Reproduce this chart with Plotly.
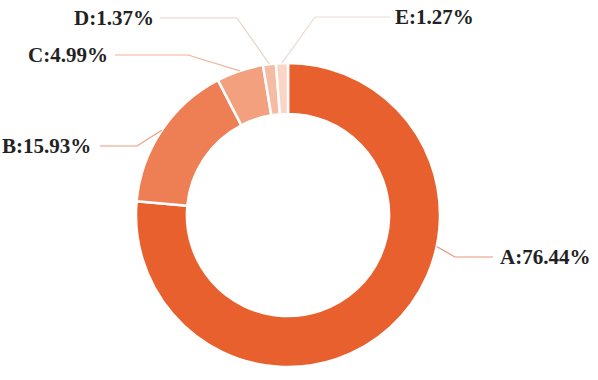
import math
import plotly.graph_objects as go

# ---- data ----
labels = ["A", "B", "C", "D", "E"]
values = [76.44, 15.93, 4.99, 1.37, 1.27]
colors = ["#E9602F", "#EE7F55", "#F3A07E", "#F6BBA3", "#FAD5C6"]
line_colors = ["#E8957A", "#EC9C7E", "#F0B39A", "#E6D3CB", "#EADBD4"]

W, H = 598, 380
CX, CY, R = 288, 215, 152

# label layout (pixels): elbow, end, text side
label_layout = {
    "A": dict(angle=102, elbow=(455, 257), end=(493, 257), tx=498, anchor="left"),
    "B": dict(angle=None, elbow=(137, 146), end=(100, 146), tx=93, anchor="right"),
    "C": dict(angle=None, elbow=(188, 55), end=(115, 55), tx=110, anchor="right"),
    "D": dict(angle=None, elbow=(237, 18), end=(160, 18), tx=156, anchor="right"),
    "E": dict(angle=None, elbow=(315, 17), end=(390, 17), tx=393, anchor="left"),
}

def px(x):
    return x / W

def py(y):
    return 1 - y / H

fig = go.Figure(go.Pie(
    labels=labels, values=values, sort=False, direction="clockwise", rotation=0,
    hole=0.665, marker=dict(colors=colors, line=dict(color="white", width=2.5)),
    textinfo="none", showlegend=False,
    domain=dict(x=[(CX - R) / W, (CX + R) / W], y=[(H - CY - R) / H, (H - CY + R) / H]),
))

total = sum(values)
cum = 0.0
shapes, annotations = [], []
for lab, v, lc in zip(labels, values, line_colors):
    mid = (cum + v / 2) / total * 360
    cum += v
    L = label_layout[lab]
    ang = L["angle"] if L["angle"] is not None else mid
    a = math.radians(ang)
    sx, sy = CX + R * math.sin(a), CY - R * math.cos(a)
    ex, ey = L["elbow"]
    fx, fy = L["end"]
    path = f"M {px(sx)},{py(sy)} L {px(ex)},{py(ey)} L {px(fx)},{py(fy)}"
    shapes.append(dict(type="path", xref="paper", yref="paper", path=path,
                       line=dict(color=lc, width=1.2)))
    annotations.append(dict(
        x=px(L["tx"]), y=py(fy), xref="paper", yref="paper", showarrow=False,
        xanchor=L["anchor"], yanchor="middle",
        text=f"<b>{lab}:{v:.2f}%</b>",
        font=dict(family="Liberation Serif", size=21, color="#222222"),
    ))

fig.update_layout(
    width=W, height=H, margin=dict(l=0, r=0, t=0, b=0),
    paper_bgcolor="white", plot_bgcolor="white",
    shapes=shapes, annotations=annotations,
)
fig.write_html("out.html")
